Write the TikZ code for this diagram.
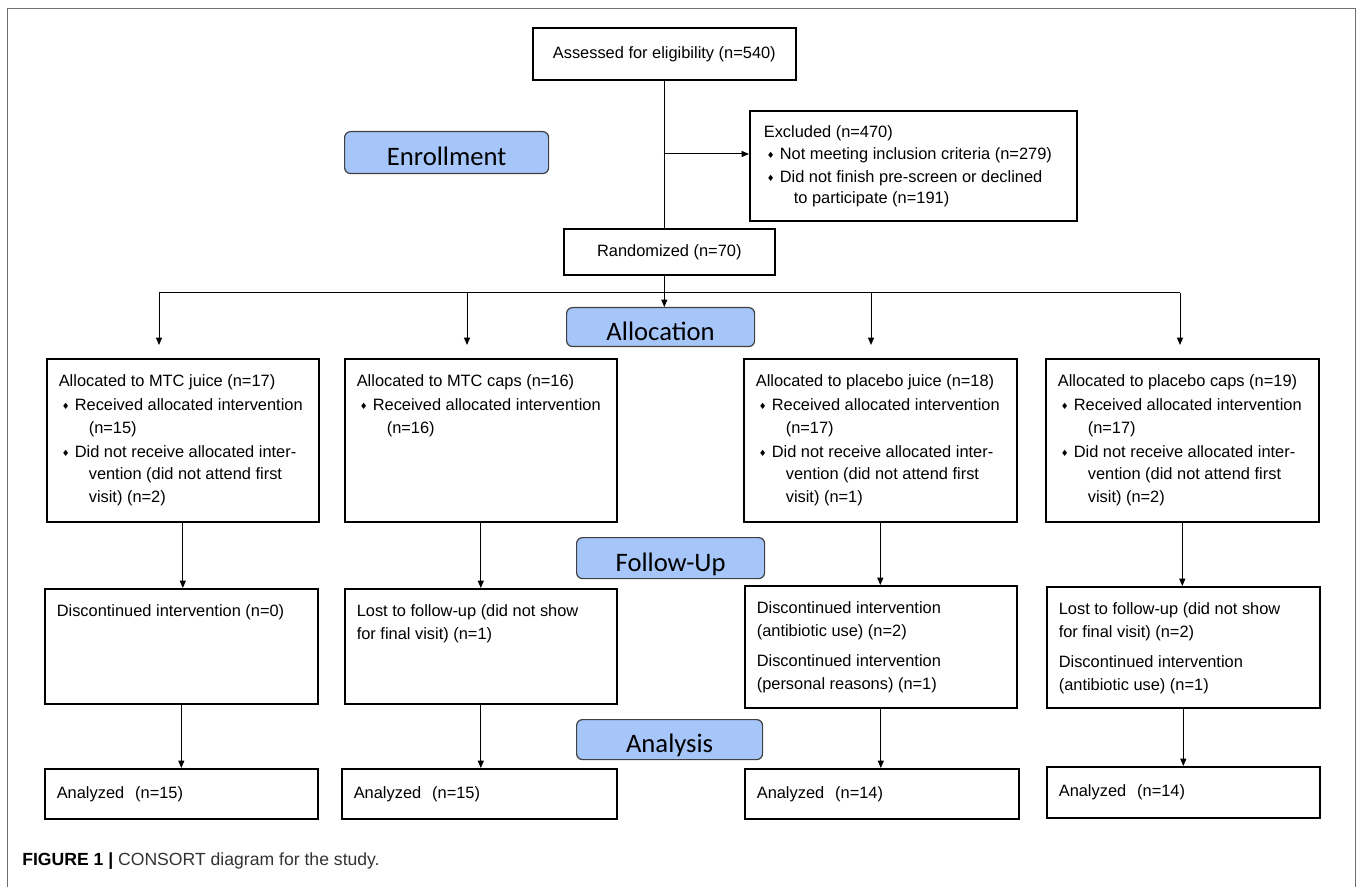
\documentclass[tikz,border=0pt]{standalone}
\usepackage{fontspec}
\setmainfont{Liberation Sans}
\newfontfamily\stagefont{Carlito}
\newfontfamily\symfont{DejaVu Sans}
\usepackage{tikz}
\usetikzlibrary{arrows.meta,positioning}
\newdimen\px \px=0.75pt
\definecolor{stageblue}{RGB}{166,197,249}
\definecolor{framegray}{RGB}{110,110,110}
\newcommand{\itm}[1]{\par\vspace{1.5\px}\hangindent=30\px\hangafter=1\noindent\hbox to 16\px{\hskip3\px\raisebox{1\px}{\symfont\fontsize{6.5pt}{6.5pt}\selectfont ♦}\hss}#1}
\newcommand{\tbox}[3]{\parbox[t][#2\px][t]{#1\px}{\raggedright\strut#3}}

\begin{document}
\begin{tikzpicture}[x=0.75pt,y=-0.75pt,
    box/.style={draw,line width=1.6\px,inner sep=12\px,anchor=north west,font=\fontsize{12.3pt}{16.9pt}\selectfont},
    lastbox/.style={box,text width=249\px,minimum height=50\px,align=left},
    stage/.style={draw=black!75,fill=stageblue,rounded corners=6\px,line width=1.2\px,inner sep=0pt,
        text height=26\px,text depth=0pt,anchor=north west,font=\stagefont\fontsize{20pt}{24pt}\selectfont},
    conn/.style={line width=1\px},
    arr/.style={conn,-{Triangle[length=5.5pt,width=4.5pt]}}]
    \path[fill=white,use as bounding box] (0,0) rectangle (1358,887);
    \draw[framegray,line width=1.5\px] (7.5,887) |- (1355.7,8.3) -- (1355.7,887);

    \node[box,minimum width=263\px,minimum height=52\px,inner sep=0pt] (assess) at (532,27) {Assessed for eligibility (n=540)};
    \node[stage,minimum width=204\px,minimum height=42\px] (enroll) at (344,131) {Enrollment};
    \node[box,inner xsep=14\px,font=\fontsize{12.3pt}{15.75pt}\selectfont] (excl) at (749,110) {\tbox{299}{86}{Excluded (n=470)\itm{Not meeting inclusion criteria (n=279)}\itm{Did not finish pre-screen or declined\newline to participate (n=191)}}};
    \node[box,minimum width=211\px,minimum height=46\px,inner sep=0pt] (random) at (563,228) {Randomized (n=70)};
    \node[stage,minimum width=188\px,minimum height=39\px] (alloc) at (566,307) {Allocation};

    \node[box] (mj1) at (46,358) {\tbox{248}{139}{Allocated to MTC juice (n=17)\itm{Received allocated intervention\newline (n=15)}\itm{Did not receive allocated inter-\newline vention (did not attend first\newline visit) (n=2)}}};
    \node[box] (mc1) at (344,358) {\tbox{248}{139}{Allocated to MTC caps (n=16)\itm{Received allocated intervention\newline (n=16)}}};
    \node[box] (pj1) at (743,358) {\tbox{249}{139}{Allocated to placebo juice (n=18)\itm{Received allocated intervention\newline (n=17)}\itm{Did not receive allocated inter-\newline vention (did not attend first\newline visit) (n=1)}}};
    \node[box] (pc1) at (1045,358) {\tbox{249}{139}{Allocated to placebo caps (n=19)\itm{Received allocated intervention\newline (n=17)}\itm{Did not receive allocated inter-\newline vention (did not attend first\newline visit) (n=2)}}};

    \node[stage,minimum width=188\px,minimum height=41\px] (follow) at (576,537) {Follow-Up};

    \node[box] (mj2) at (44,588) {\tbox{249}{91}{Discontinued intervention (n=0)}};
    \node[box] (mc2) at (344,588) {\tbox{248}{91}{Lost to follow-up (did not show\\for final visit) (n=1)}};
    \node[box] (pj2) at (744,585) {\tbox{248}{98}{Discontinued intervention\\(antibiotic use) (n=2)\par\vspace{8\px}Discontinued intervention\\(personal reasons) (n=1)}};
    \node[box] (pc2) at (1046,586) {\tbox{249}{97}{Lost to follow-up (did not show\\for final visit) (n=2)\par\vspace{8\px}Discontinued intervention\\(antibiotic use) (n=1)}};

    \node[stage,minimum width=186\px,minimum height=40\px] (analysis) at (576,719) {Analysis};

    \node[lastbox] (mj3) at (44,768) {Analyzed~~(n=15)};
    \node[lastbox,text width=251\px] (mc3) at (341,768) {Analyzed~~(n=15)};
    \node[lastbox,text width=250\px] (pj3) at (744,768) {Analyzed~~(n=14)};
    \node[lastbox,minimum height=51\px] (pc3) at (1046,766) {Analyzed~~(n=14)};

    \node[anchor=west,inner sep=0pt,text=black!80,font=\fontsize{13.2pt}{15pt}\selectfont] (caption) at (22,861) {\textbf{\color{black}FIGURE 1 |} CONSORT diagram for the study.};

    \draw[conn] (assess.south) -- (assess.south |- random.north);
    \coordinate (exb) at (663.5,154);
    \draw[arr] (exb) -- (exb -| excl.west);
    \draw[arr] (assess.south |- random.south) -- (assess.south |- alloc.north);
    \coordinate (s1) at (159,293);
    \coordinate (s2) at (467,293);
    \coordinate (s3) at (871,293);
    \coordinate (s4) at (1180,293);
    \draw[conn] (s1) -- (s4);
    \foreach \s/\b in {s1/mj1,s2/mc1,s3/pj1,s4/pc1}
        \draw[arr,shorten >=13\px] (\s) -- (\s |- \b.north);
    \foreach \a/\b in {mj1/mj2,mc1/mc2,pj1/pj2,pc1/pc2,mj2/mj3,mc2/mc3,pj2/pj3,pc2/pc3}
        \draw[arr] (\a.south) -- (\a.south |- \b.north);
\end{tikzpicture}
\end{document}
